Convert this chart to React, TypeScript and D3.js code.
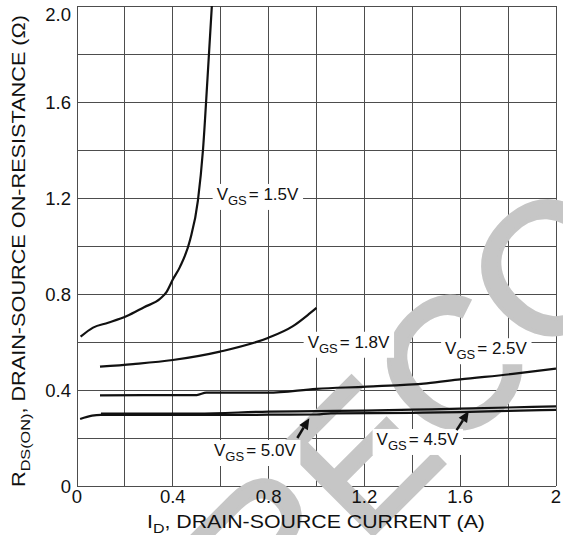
import { useEffect, useRef } from 'react';
import * as d3 from 'd3';

type Pt = [number, number];

// R_DS(ON) vs I_D (A, ohm)
const vgs15: Pt[] = [
    [0.015, 0.622], [0.067, 0.66], [0.13, 0.68], [0.208, 0.708], [0.28, 0.745],
    [0.347, 0.78], [0.375, 0.81], [0.4, 0.86], [0.43, 0.913], [0.472, 1.025],
    [0.505, 1.19], [0.526, 1.4], [0.545, 1.7], [0.563, 2.0],
];
const vgs18: Pt[] = [
    [0.096, 0.497], [0.234, 0.508], [0.4, 0.525], [0.597, 0.56], [0.797, 0.617],
    [0.9, 0.665], [0.973, 0.72], [1.0, 0.742],
];
const vgs25: Pt[] = [
    [0.096, 0.378], [0.5, 0.379], [0.54, 0.389], [0.797, 0.389], [1.0, 0.405],
    [1.21, 0.414], [1.46, 0.428], [1.6, 0.444], [1.82, 0.467], [2.0, 0.489],
];
const vgs45: Pt[] = [
    [0.1, 0.302], [0.5, 0.302], [0.8, 0.31], [1.0, 0.312], [1.2, 0.314],
    [1.4, 0.318], [1.6, 0.322], [1.8, 0.327], [2.0, 0.332],
];
const vgs50: Pt[] = [
    [0.013, 0.279], [0.063, 0.293], [0.1, 0.296], [0.5, 0.296], [0.8, 0.297],
    [1.0, 0.298], [1.06, 0.303], [1.4, 0.305], [1.6, 0.308], [1.8, 0.313], [2.0, 0.317],
];
const series = [vgs15, vgs18, vgs25, vgs45, vgs50];

const GRID = [0, 0.2, 0.4, 0.6, 0.8, 1.0, 1.2, 1.4, 1.6, 1.8, 2.0];
const X_TICKS = [0, 0.4, 0.8, 1.2, 1.6, 2];
const X_TICK_LABELS = ['0', '0.4', '0.8', '1.2', '1.6', '2'];
const Y_TICKS = [0, 0.4, 0.8, 1.2, 1.6, 2.0];
const Y_TICK_LABELS = ['0', '0.4', '0.8', '1.2', '1.6', '2.0'];

// curve labels: text, left x / baseline y in data units
const LABEL_TEXT = ['1.5V', '1.8V', '2.5V', '5.0V', '4.5V'];
const LABEL_AT: Pt[] = [[0.583, 1.192], [0.963, 0.576], [1.537, 0.549], [0.572, 0.125], [1.251, 0.171]];
const ARROWS: [Pt, Pt][] = [
    [[0.92, 0.2], [0.97, 0.282]],
    [[1.585, 0.233], [1.636, 0.312]],
];

const W = 563;
const H = 535;
const MARGIN = { top: 6, right: 7, bottom: 49, left: 77 };
const FONT = '"Liberation Sans", Arial, Helvetica, sans-serif';

export default function App() {
    const ref = useRef<SVGSVGElement>(null);

    useEffect(() => {
        document.body.style.margin = '0';
        if (!ref.current) return;
        const svg = d3.select(ref.current);
        svg.selectAll('*').remove();

        const x = d3.scaleLinear().domain([0, 2]).range([MARGIN.left, W - MARGIN.right]);
        const y = d3.scaleLinear().domain([0, 2]).range([H - MARGIN.bottom, MARGIN.top]);

        svg.append('rect').attr('width', W).attr('height', H).attr('fill', '#fff');

        // grid
        const grid = svg.append('g').attr('stroke', '#4d4d4d').attr('stroke-width', 1).attr('shape-rendering', 'crispEdges');
        GRID.forEach((v) => {
            grid.append('line').attr('x1', x(v)).attr('x2', x(v)).attr('y1', y(0)).attr('y2', y(2));
            grid.append('line').attr('x1', x(0)).attr('x2', x(2)).attr('y1', y(v)).attr('y2', y(v));
        });

        // watermark
        svg.append('text')
            .attr('transform', 'translate(268,640) rotate(-45)')
            .attr('font-family', FONT)
            .attr('font-size', 185)
            .attr('fill', '#c6c6c6')
            .attr('stroke', '#c6c6c6')
            .attr('stroke-width', 4)
            .text('RECOMMENDED');

        // curves
        svg.append('clipPath').attr('id', 'plot-clip')
            .append('rect').attr('x', x(0)).attr('y', y(2)).attr('width', x(2) - x(0)).attr('height', y(0) - y(2));
        const line = d3.line<Pt>().x((d) => x(d[0])).y((d) => y(d[1])).curve(d3.curveMonotoneX);
        const curves = svg.append('g').attr('clip-path', 'url(#plot-clip)');
        series.forEach((s) => {
            curves.append('path')
                .datum(s)
                .attr('fill', 'none')
                .attr('stroke', '#111')
                .attr('stroke-width', 2.2)
                .attr('stroke-linejoin', 'round')
                .attr('d', line);
        });

        // curve labels with white boxes
        LABEL_TEXT.forEach((txt, i) => {
            const g = svg.append('g');
            const t = g.append('text')
                .attr('x', x(LABEL_AT[i][0]))
                .attr('y', y(LABEL_AT[i][1]))
                .attr('font-family', FONT)
                .attr('font-size', 17)
                .attr('fill', '#111');
            t.append('tspan').text('V');
            t.append('tspan').attr('font-size', 13).attr('dy', 5).text('GS');
            t.append('tspan').attr('dy', -5).attr('dx', 2).text('= ' + txt);
            const bb = (t.node() as SVGTextElement).getBBox();
            g.insert('rect', 'text')
                .attr('x', bb.x - 4)
                .attr('y', bb.y - 1)
                .attr('width', bb.width + 8)
                .attr('height', bb.height + 3)
                .attr('fill', '#fff');
        });

        // arrows
        ARROWS.forEach(([from, to]) => {
            const x0 = x(from[0]), y0 = y(from[1]);
            const x1 = x(to[0]), y1 = y(to[1]);
            const ang = Math.atan2(y1 - y0, x1 - x0);
            const hl = 11, hw = 5;
            const bx = x1 - hl * Math.cos(ang), by = y1 - hl * Math.sin(ang);
            svg.append('line')
                .attr('x1', x0).attr('y1', y0).attr('x2', bx).attr('y2', by)
                .attr('stroke', '#111').attr('stroke-width', 2.5);
            svg.append('path')
                .attr('d', `M${x1},${y1}L${bx - hw * Math.sin(ang)},${by + hw * Math.cos(ang)}L${bx + hw * Math.sin(ang)},${by - hw * Math.cos(ang)}Z`)
                .attr('fill', '#111');
        });

        // tick labels
        const ticks = svg.append('g').attr('font-family', FONT).attr('font-size', 18.5).attr('fill', '#111');
        Y_TICKS.forEach((v, i) => {
            ticks.append('text')
                .attr('x', x(0) - 6)
                .attr('y', Math.max(y(v), 14))
                .attr('dy', '0.36em')
                .attr('text-anchor', 'end')
                .text(Y_TICK_LABELS[i]);
        });
        X_TICKS.forEach((v, i) => {
            ticks.append('text')
                .attr('x', x(v))
                .attr('y', 503)
                .attr('text-anchor', 'middle')
                .text(X_TICK_LABELS[i]);
        });

        // axis titles
        const xt = svg.append('text')
            .attr('x', 147)
            .attr('y', 528)
            .attr('textLength', 338)
            .attr('lengthAdjust', 'spacingAndGlyphs')
            .attr('font-family', FONT)
            .attr('font-size', 18)
            .attr('fill', '#111');
        xt.append('tspan').text('I');
        xt.append('tspan').attr('font-size', 13.5).attr('dy', 5).text('D');
        xt.append('tspan').attr('dy', -5).text(', DRAIN-SOURCE CURRENT (A)');

        const yt = svg.append('text')
            .attr('transform', `translate(25,${y(0) + 1}) rotate(-90)`)
            .attr('textLength', 472)
            .attr('lengthAdjust', 'spacingAndGlyphs')
            .attr('font-family', FONT)
            .attr('font-size', 18)
            .attr('fill', '#111');
        yt.append('tspan').text('R');
        yt.append('tspan').attr('font-size', 13.5).attr('dy', 5).text('DS(ON)');
        yt.append('tspan').attr('dy', -5).text(', DRAIN-SOURCE ON-RESISTANCE (\u03A9)');
    }, []);

    return <svg ref={ref} width={W} height={H} style={{ display: 'block' }} />;
}
